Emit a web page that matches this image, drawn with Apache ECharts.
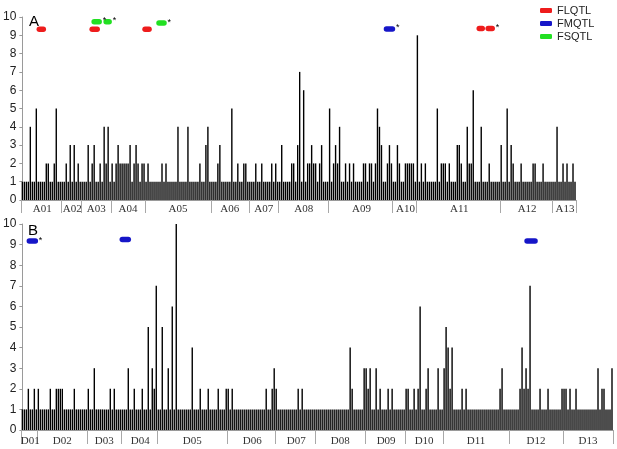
<!DOCTYPE html>
<html>
<head>
<meta charset="utf-8">
<script src="https://cdn.jsdelivr.net/npm/echarts@6/dist/echarts.min.js"></script>
<style>
html, body { margin: 0; padding: 0; background: #fff; }
#main { width: 617px; height: 449px; }
</style>
</head>
<body>
<div id="main"></div>
<script>
// panel A chromosomes and bar heights (one array per chromosome)
var chromA = ['A01', 'A02', 'A03', 'A04', 'A05', 'A06', 'A07', 'A08', 'A09', 'A10', 'A11', 'A12', 'A13'];
var valsA = [
  [1,1,1,1,4,1,1,5,1,1,1,1,2,2,1,1,2,5,1,1],
  [1,1,2,1,3,1,3,1,2,1],
  [1,1,1,3,1,2,3,1,1,2,1,4,2,4,1],
  [2,1,2,3,2,2,2,2,2,3,1,2,3,2,1,2,2],
  [1,2,1,1,1,1,1,1,2,1,2,1,1,1,1,1,4,1,1,1,1,4,1,1,1,1,1,2,1,1,3,4,1],
  [1,1,1,2,3,1,1,1,1,1,5,1,1,2,1,1,2,2,1],
  [1,1,1,2,1,1,2,1,1,1,1,2,1,2,1],
  [1,3,1,1,1,1,2,2,1,3,7,1,6,1,2,2,3,2,2,1,2,3,1,1,1],
  [5,1,2,3,2,4,1,1,2,1,2,1,2,1,1,1,1,2,2,1,2,2,1,2,5,4,3,1,1,2,3,2],
  [1,1,3,2,1,1,2,2,2,2,2,1],
  [9,1,2,1,2,1,1,1,1,1,5,1,2,2,2,1,2,1,1,1,3,3,2,1,1,4,2,2,6,1,1,1,4,1,1,1,2,1,1,1,1,1],
  [3,1,1,5,1,3,2,1,1,1,2,1,1,1,1,1,2,2,1,1,1,2,1,1,1,1],
  [1,1,4,1,1,2,1,2,1,1,2,1]
];

// panel B chromosomes and bar heights
var chromB = ['D01', 'D02', 'D03', 'D04', 'D05', 'D06', 'D07', 'D08', 'D09', 'D10', 'D11', 'D12', 'D13'];
var valsB = [
  [1,1,1,2,1,1,2,1],
  [2,1,1,1,1,1,2,1,1,2,2,2,2,1,1,1,1,1,2,1,1,1,1,1,1],
  [2,1,1,3,1,1,1,1,1,1,1,2,1,2,1,1,1],
  [1,1,1,3,1,1,2,1,1,1,2,1,1,5,1,3,2,7],
  [1,1,5,1,1,3,1,6,1,10,1,1,1,1,1,1,1,4,1,1,1,2,1,1,1,2,1,1,1,1,2,1,1,1,2],
  [2,1,2,1,1,1,1,1,1,1,1,1,1,1,1,1,1,1,1,2,1,1,2,3],
  [2,1,1,1,1,1,1,1,1,1,1,2,1,2,1,1,1,1,1,1],
  [1,1,1,1,1,1,1,1,1,1,1,1,1,1,1,1,1,4,2,1,1,1,1,1,3],
  [3,2,3,1,1,3,1,2,1,1,1,2,1,2,1,1,1,1,1,1],
  [2,2,1,1,2,1,2,6,1,1,2,3,1,1,1,1,3,1,1],
  [3,5,4,2,4,1,1,1,1,2,1,2,1,1,1,1,1,1,1,1,1,1,1,1,1,1,1,1,2,3,1,1,1],
  [1,1,1,1,1,2,4,2,3,2,7,1,1,1,1,2,1,1,1,2,1,1,1,1,1,1,2],
  [2,2,1,2,1,1,2,1,1,1,1,1,1,1,1,1,1,3,1,2,2,1,1,1,3]
];

// QTL marks: [type, from bar, to bar, height, starred]
var qtlA = [
  ['FLQTL', 8.5, 10.5, 9.33, false],
  ['FLQTL', 35, 37.5, 9.33, false],
  ['FSQTL', 36, 38.5, 9.74, true],
  ['FSQTL', 42, 43.5, 9.74, true],
  ['FLQTL', 61.5, 63.5, 9.33, false],
  ['FSQTL', 68.5, 71, 9.67, true],
  ['FMQTL', 182.5, 185.5, 9.35, true],
  ['FLQTL', 229, 230.5, 9.37, false],
  ['FLQTL', 233.5, 235.5, 9.37, true]
];
var qtlB = [
  ['FMQTL', 3.5, 6.5, 9.17, true],
  ['FMQTL', 50, 53, 9.25, false],
  ['FMQTL', 252.5, 256.5, 9.17, false]
];
var qtlColors = { FLQTL: '#ee1c1c', FMQTL: '#1616c8', FSQTL: '#22e022' };

function buildPanel(names, vals) {
  var cats = [], data = [], starts = {}, mids = {};
  var idx = 0;
  for (var k = 0; k < names.length; k++) {
    starts[idx] = true;
    mids[idx + Math.floor(vals[k].length / 2)] = names[k];
    for (var j = 0; j < vals[k].length; j++) {
      cats.push(String(idx));
      data.push(vals[k][j]);
      idx++;
    }
  }
  return { cats: cats, data: data, starts: starts, mids: mids, n: idx };
}

var pA = buildPanel(chromA, valsA);
var pB = buildPanel(chromB, valsB);

function catAxis(p, gi, margin, tickLen) {
  return {
    type: 'category', gridIndex: gi, data: p.cats, boundaryGap: true,
    axisLine: { show: true, lineStyle: { color: '#9a9a9a', width: 1 } },
    axisTick: {
      show: true, length: tickLen, lineStyle: { color: '#a8a8a8' },
      interval: function (i) { return !!p.starts[i]; }
    },
    axisLabel: {
      show: true, margin: margin, color: '#333', fontSize: 11,
      fontFamily: 'Liberation Serif',
      interval: function (i) { return p.mids[i] !== undefined; },
      formatter: function (v, i) { return p.mids[i] || ''; }
    },
    splitLine: { show: false }
  };
}
function posAxis(p, gi) {
  return { type: 'value', gridIndex: gi, min: -0.5, max: p.n - 0.5, show: false };
}
function yAxis(gi) {
  return {
    type: 'value', gridIndex: gi, min: 0, max: 10, interval: 1,
    axisLine: { show: true, lineStyle: { color: '#9a9a9a' } },
    axisTick: { show: true, length: 3, lineStyle: { color: '#9a9a9a' } },
    axisLabel: { color: '#222', fontSize: 12, margin: 5, fontFamily: 'Liberation Sans' },
    splitLine: { show: false }
  };
}

var series = [
  { type: 'bar', xAxisIndex: 0, yAxisIndex: 0, data: pA.data, barWidth: 1.4,
    itemStyle: { color: '#000' }, silent: true },
  { type: 'bar', xAxisIndex: 2, yAxisIndex: 1, data: pB.data, barWidth: 1.4,
    itemStyle: { color: '#000' }, silent: true }
];

function addQtl(list, xi, yi) {
  for (var i = 0; i < list.length; i++) {
    var q = list[i];
    var col = qtlColors[q[0]];
    series.push({
      type: 'line', name: q[0], xAxisIndex: xi, yAxisIndex: yi,
      symbol: 'circle', symbolSize: 1,
      lineStyle: { color: col, width: 5.5, cap: 'round' },
      itemStyle: { color: col },
      data: [
        [q[1], q[3]],
        { value: [q[2], q[3]], label: { show: q[4], formatter: '*', position: 'right',
          distance: 3, color: '#000', fontSize: 9, offset: [0, -1] } }
      ]
    });
  }
}
addQtl(qtlA, 1, 0);
addQtl(qtlB, 3, 1);

var chart = echarts.init(document.getElementById('main'));
chart.setOption({
  animation: false,
  backgroundColor: '#fff',
  title: [
    { text: 'A', left: 24, top: 9, textStyle: { fontSize: 15, fontWeight: 'normal', color: '#000', fontFamily: 'Liberation Sans' } },
    { text: 'B', left: 23, top: 218, textStyle: { fontSize: 15, fontWeight: 'normal', color: '#000', fontFamily: 'Liberation Sans' } }
  ],
  legend: {
    data: ['FLQTL', 'FMQTL', 'FSQTL'], orient: 'vertical', left: 535, top: 0,
    icon: 'roundRect', itemWidth: 12, itemHeight: 5, itemGap: 2,
    textStyle: { fontSize: 11, color: '#222', fontFamily: 'Liberation Sans' }
  },
  grid: [
    { left: 20, right: 41, top: 17, bottom: 249 },
    { left: 21, right: 4, top: 224, bottom: 19 }
  ],
  xAxis: [catAxis(pA, 0, 4, 13), posAxis(pA, 0), catAxis(pB, 1, 6, 14), posAxis(pB, 1)],
  yAxis: [yAxis(0), yAxis(1)],
  series: series
});
</script>
</body>
</html>
